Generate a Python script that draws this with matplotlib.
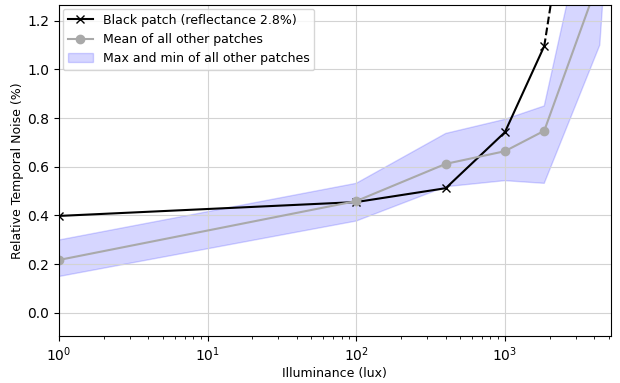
import numpy as np
import matplotlib
matplotlib.use("Agg")
import matplotlib.pyplot as plt

# illuminance steps (lux)
lux = [1, 100, 400, 1000, 1840, 4350, 5150]

# black patch noise (%), last two steps are saturated -> dashed
black_noise = [0.398, 0.455, 0.512, 0.742, 1.096, 2.56, 3.0]
n_solid = 5

# statistics of the remaining patches
mean_noise = [0.217, 0.459, 0.612, 0.664, 0.748, 1.38, 2.1]
max_noise = [0.299, 0.532, 0.737, 0.795, 0.85, 1.88, 2.6]
min_noise = [0.149, 0.377, 0.518, 0.543, 0.532, 1.10, 1.75]

fig = plt.figure(figsize=(6.2, 3.83), dpi=100)
ax = fig.add_axes([0.095, 0.123, 0.89, 0.864])

ax.plot(lux[:n_solid], black_noise[:n_solid], "k-x", label="Black patch (reflectance 2.8%)")
ax.plot(lux[n_solid - 1:], black_noise[n_solid - 1:], "k--")
ax.plot(lux, mean_noise, "-o", color="darkgray", label="Mean of all other patches")
ax.fill_between(lux, min_noise, max_noise, color="b", alpha=0.16,
                label="Max and min of all other patches")

ax.set_xscale("log")
ax.set_xlim(1, 5150)
ax.set_ylim(-0.095, 1.265)
ax.grid(True, color="lightgray")
ax.set_xlabel("Illuminance (lux)", fontsize=9, labelpad=2)
ax.set_ylabel("Relative Temporal Noise (%)", fontsize=9, labelpad=2)
ax.legend(loc="upper left", fontsize=9, borderaxespad=0.3)

fig.savefig("out.png")
